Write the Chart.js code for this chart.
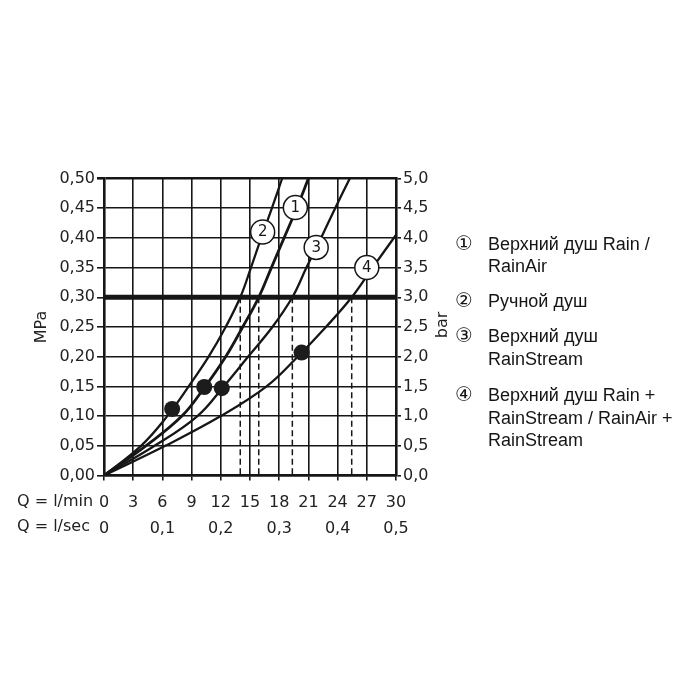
<!DOCTYPE html>
<html>
<head>
<meta charset="utf-8">
<script src="https://cdn.jsdelivr.net/npm/chart.js@4.4.0/dist/chart.umd.min.js"></script>
<style>
body{margin:0;background:#fff;}
#wrap{position:relative;width:700px;height:700px;}
#legend{position:absolute;left:0;top:0;font-family:"Liberation Sans",Arial,sans-serif;font-size:18px;color:#151515;}
.item{position:absolute;left:488px;white-space:nowrap;line-height:22.5px;}
.num{position:absolute;left:-33px;top:-1px;font-family:"DejaVu Sans",sans-serif;font-size:20px;}
</style>
</head>
<body>
<div id="wrap">
<canvas id="chart" width="700" height="700"></canvas>
<div id="legend"></div>
</div>
<script>
// flow (l/min) and pressure (MPa)
var curve1Flow = [0, 4.3, 8.0, 10.4, 12.5, 14.25, 15.9, 17.2, 18.5, 19.8, 21.0];
var curve1Pressure = [0, 0.05, 0.10, 0.15, 0.20, 0.25, 0.30, 0.35, 0.40, 0.45, 0.50];
var curve2Flow = [0, 3.8, 6.5, 8.7, 10.75, 12.5, 14.0, 15.1, 16.15, 17.25, 18.3];
var curve2Pressure = [0, 0.05, 0.10, 0.15, 0.20, 0.25, 0.30, 0.35, 0.40, 0.45, 0.50];
var curve3Flow = [0, 5.2, 9.6, 12.3, 14.8, 17.3, 19.35, 20.8, 22.3, 23.75, 25.25];
var curve3Pressure = [0, 0.05, 0.10, 0.15, 0.20, 0.25, 0.30, 0.35, 0.40, 0.45, 0.50];
var curve4Flow = [0, 6.3, 12.0, 16.7, 19.9, 22.8, 25.45, 27.6, 30];
var curve4Pressure = [0, 0.05, 0.10, 0.15, 0.20, 0.25, 0.30, 0.35, 0.405];

var dotFlow = [7.0, 10.3, 12.1, 20.3];
var dotPressure = [0.112, 0.149, 0.147, 0.207];

var labelNums = ["1", "2", "3", "4"];
var labelFlow = [19.66, 16.3, 21.8, 27.0];
var labelPressure = [0.451, 0.41, 0.384, 0.350];

var ratedPressure = 0.30;
var ratedFlow = [14.0, 15.9, 19.35, 25.45];

var legendNums = ["\u2460", "\u2461", "\u2462", "\u2463"];
var legendLines = [
	["Верхний душ Rain /", "RainAir"],
	["Ручной душ"],
	["Верхний душ", "RainStream"],
	["Верхний душ Rain +", "RainStream / RainAir +", "RainStream"]
];
var legendTops = [232.5, 289.5, 325.2, 384.2];

var ink = "#161616";

function toPts(xs, ys) {
	var out = [];
	for (var i = 0; i < xs.length; i++) {
		out.push({x: xs[i], y: ys[i]});
	}
	return out;
}
function comma(v, d) {
	return v.toFixed(d).replace(".", ",");
}

var datasets = [];
// numbered circles on top
datasets.push({
	data: toPts(labelFlow, labelPressure),
	showLine: false,
	pointRadius: 12,
	pointBackgroundColor: "#fff",
	pointBorderColor: ink,
	pointBorderWidth: 1.5
});
datasets.push({
	data: toPts(dotFlow, dotPressure),
	showLine: false,
	pointRadius: 8,
	pointBackgroundColor: "#1c1c1c",
	pointBorderWidth: 0
});
var curves = [[curve1Flow, curve1Pressure, 2.8], [curve2Flow, curve2Pressure, 2.3],
	[curve3Flow, curve3Pressure, 2.3], [curve4Flow, curve4Pressure, 2.3]];
for (var c = 0; c < curves.length; c++) {
	datasets.push({
		data: toPts(curves[c][0], curves[c][1]),
		borderColor: ink,
		borderWidth: curves[c][2],
		pointRadius: 0,
		tension: 0.4
	});
}
datasets.push({
	data: [{x: 0, y: ratedPressure}, {x: 30, y: ratedPressure}],
	borderColor: ink,
	borderWidth: 5,
	pointRadius: 0
});
for (var r = 0; r < ratedFlow.length; r++) {
	datasets.push({
		data: [{x: ratedFlow[r], y: ratedPressure}, {x: ratedFlow[r], y: 0}],
		borderColor: ink,
		borderWidth: 1.5,
		borderDash: [6, 3.5],
		pointRadius: 0
	});
}

var tickFont = {family: "DejaVu Sans", size: 16};

var extraText = {
	id: "extraText",
	afterDatasetsDraw: function(chart) {
		var ctx = chart.ctx;
		var meta = chart.getDatasetMeta(0);
		ctx.save();
		ctx.fillStyle = ink;
		ctx.font = "15px 'DejaVu Sans'";
		ctx.textAlign = "center";
		ctx.textBaseline = "middle";
		for (var i = 0; i < meta.data.length; i++) {
			ctx.fillText(labelNums[i], meta.data[i].x, meta.data[i].y + 0.5);
		}
		ctx.restore();
	},
	afterDraw: function(chart) {
		var ctx = chart.ctx;
		ctx.save();
		ctx.fillStyle = "#222";
		ctx.font = "16px 'DejaVu Sans'";
		ctx.textBaseline = "middle";
		ctx.textAlign = "left";
		ctx.fillText("Q = l/min", 17, 501.5);
		ctx.fillText("Q = l/sec", 17, 526.5);
		ctx.textAlign = "center";
		ctx.translate(42, 327);
		ctx.rotate(-Math.PI / 2);
		ctx.fillText("MPa", 0, 0);
		ctx.restore();
		ctx.save();
		ctx.fillStyle = "#222";
		ctx.font = "16px 'DejaVu Sans'";
		ctx.textBaseline = "middle";
		ctx.textAlign = "center";
		ctx.translate(443, 325);
		ctx.rotate(-Math.PI / 2);
		ctx.fillText("bar", 0, 0);
		ctx.restore();
	}
};

new Chart(document.getElementById("chart").getContext("2d"), {
	type: "line",
	data: {datasets: datasets},
	options: {
		responsive: false,
		animation: false,
		layout: {padding: {top: 178.5, left: 0, right: 0, bottom: 0}},
		plugins: {legend: {display: false}, tooltip: {enabled: false}},
		scales: {
			x: {
				type: "linear", position: "bottom", min: 0, max: 30,
				ticks: {stepSize: 3, autoSkip: false, maxRotation: 0, padding: 13, color: "#222", font: tickFont},
				grid: {color: ink, lineWidth: 1.6, tickLength: 5},
				border: {color: ink, width: 2.6},
				afterFit: function(s) { s.height = 40; }
			},
			x2: {
				type: "linear", position: "bottom", min: 0, max: 0.5,
				ticks: {stepSize: 0.1, autoSkip: false, maxRotation: 0, padding: -4, color: "#222", font: tickFont,
					callback: function(v) { return v === 0 ? "0" : comma(v, 1); }},
				grid: {display: false},
				border: {display: false},
				afterFit: function(s) { s.height = 184.5; }
			},
			y: {
				type: "linear", position: "left", min: 0, max: 0.5,
				ticks: {stepSize: 0.05, padding: 2, color: "#222", font: tickFont,
					callback: function(v) { return comma(v, 2); }},
				grid: {color: ink, tickLength: 7,
					lineWidth: function(ctx) { return ctx.tick && Math.abs(ctx.tick.value - 0.5) < 1e-6 ? 2.6 : 1.6; }},
				border: {color: ink, width: 2.6},
				afterFit: function(s) { s.width = 104; }
			},
			y2: {
				type: "linear", position: "right", min: 0, max: 5,
				ticks: {stepSize: 0.5, padding: 2, color: "#222", font: tickFont,
					callback: function(v) { return comma(v, 1); }},
				grid: {drawOnChartArea: false, color: ink, lineWidth: 1.6, tickLength: 5},
				border: {color: ink, width: 2.6},
				afterFit: function(s) { s.width = 304; }
			}
		}
	},
	plugins: [extraText]
});

// legend as text beside the chart
var legend = document.getElementById("legend");
for (var k = 0; k < legendLines.length; k++) {
	var item = document.createElement("div");
	item.className = "item";
	item.style.top = legendTops[k] + "px";
	item.innerHTML = '<span class="num">' + legendNums[k] + '</span>' + legendLines[k].join("<br>");
	legend.appendChild(item);
}
</script>
</body>
</html>
